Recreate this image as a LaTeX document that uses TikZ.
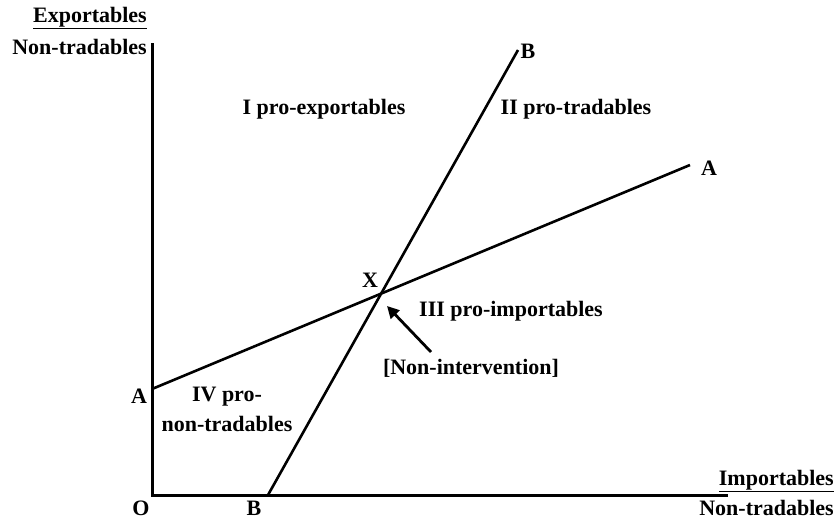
\documentclass[tikz,border=0pt]{standalone}
\usepackage{fontspec}
\setmainfont{Liberation Serif}
\usetikzlibrary{arrows.meta}
\begin{document}
\begin{tikzpicture}[x=1pt,y=-1pt,
  lbl/.style={font=\fontsize{22}{24}\selectfont\bfseries, inner sep=0pt},
  axisline/.style={line width=3pt},
  curveline/.style={line width=2.6pt},
  pointer/.style={line width=2.8pt,-{Triangle[length=12pt,width=12pt]}}]
\useasboundingbox (0,0) rectangle (838,520);
% coordinates
\coordinate (top) at (152,43);
\coordinate (O) at (152,495);
\coordinate (xend) at (728,495);
\coordinate (A1) at (152,389);
\coordinate (A2) at (690,165);
\coordinate (B1) at (268,495);
\coordinate (B2) at (518,50);
\coordinate (tipX) at (387,306);
\coordinate (tailX) at (431,352);
% axes
\draw[axisline] (top) -- (O) -- (xend);
% lines
\draw[curveline] (A1) -- (A2);
\draw[curveline] (B1) -- (B2);
% arrow
\draw[pointer] (tailX) -- (tipX);
% labels
\node[lbl,anchor=east] (lexp) at (147,18) {\underline{Exportables}};
\node[lbl,anchor=east] (lnt1) at (147,47) {Non-tradables};
\node[lbl] (lBtop) at (528,51) {B};
\node[lbl] (lAright) at (709,168) {A};
\node[lbl] (lI) at (324,109) {I pro-exportables};
\node[lbl] (lII) at (576,109) {II pro-tradables};
\node[lbl] (lX) at (370,280) {X};
\node[lbl] (lIII) at (511,311) {III pro-importables};
\node[lbl] (lNI) at (471,368) {[Non-intervention]};
\node[lbl] (lAleft) at (139,396) {A};
\node[lbl] (lIV) at (227,397) {IV pro-};
\node[lbl] (lIV2) at (227,424) {non-tradables};
\node[lbl] (lO) at (141,508) {O};
\node[lbl] (lBbot) at (254,508) {B};
\node[lbl,anchor=east] (limp) at (834,481) {\underline{Importables}};
\node[lbl,anchor=east] (lnt2) at (834,508) {Non-tradables};
\end{tikzpicture}
\end{document}
